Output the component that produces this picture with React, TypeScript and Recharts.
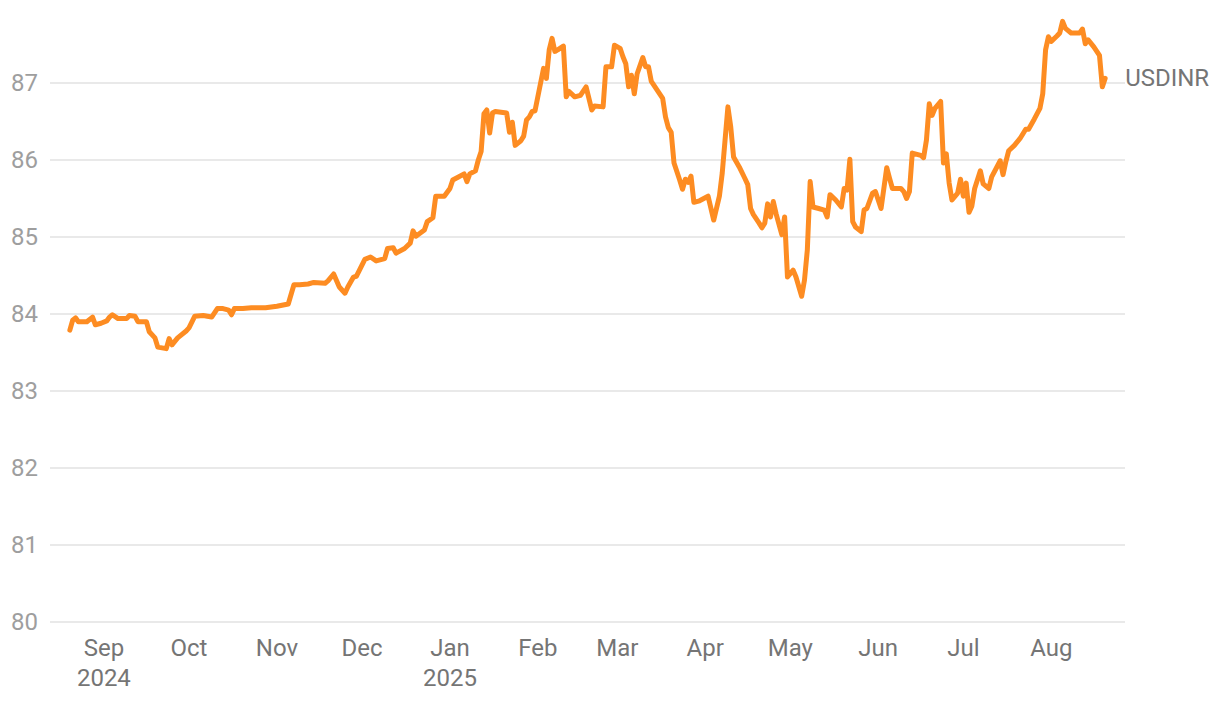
import React from 'react';
import { LineChart, Line, XAxis, YAxis, CartesianGrid, LabelList } from 'recharts';

const dates = [
  '2024-08-20', '2024-08-21', '2024-08-22', '2024-08-23', '2024-08-26', '2024-08-28', '2024-08-29', '2024-08-31',
  '2024-09-02', '2024-09-03', '2024-09-04', '2024-09-06', '2024-09-09', '2024-09-10', '2024-09-12', '2024-09-13',
  '2024-09-16', '2024-09-17', '2024-09-19', '2024-09-20', '2024-09-23', '2024-09-24', '2024-09-25', '2024-09-27',
  '2024-09-30', '2024-10-01', '2024-10-03', '2024-10-06', '2024-10-09', '2024-10-11', '2024-10-13', '2024-10-15',
  '2024-10-16', '2024-10-17', '2024-10-20', '2024-10-23', '2024-10-28', '2024-11-01', '2024-11-05', '2024-11-07',
  '2024-11-09', '2024-11-12', '2024-11-14', '2024-11-18', '2024-11-19', '2024-11-21', '2024-11-23', '2024-11-25',
  '2024-11-26', '2024-11-28', '2024-11-29', '2024-12-02', '2024-12-04', '2024-12-06', '2024-12-09', '2024-12-10',
  '2024-12-12', '2024-12-13', '2024-12-16', '2024-12-18', '2024-12-19', '2024-12-20', '2024-12-23', '2024-12-24',
  '2024-12-26', '2024-12-27', '2024-12-30', '2025-01-01', '2025-01-02', '2025-01-04', '2025-01-06', '2025-01-07',
  '2025-01-08', '2025-01-10', '2025-01-11', '2025-01-12', '2025-01-13', '2025-01-14', '2025-01-15', '2025-01-16',
  '2025-01-17', '2025-01-19', '2025-01-21', '2025-01-22', '2025-01-23', '2025-01-24', '2025-01-26', '2025-01-27',
  '2025-01-28', '2025-01-29', '2025-01-30', '2025-01-31', '2025-02-03', '2025-02-04', '2025-02-05', '2025-02-06',
  '2025-02-07', '2025-02-08', '2025-02-10', '2025-02-11', '2025-02-12', '2025-02-14', '2025-02-16', '2025-02-18',
  '2025-02-20', '2025-02-21', '2025-02-24', '2025-02-25', '2025-02-27', '2025-02-28', '2025-03-02', '2025-03-03',
  '2025-03-04', '2025-03-05', '2025-03-06', '2025-03-07', '2025-03-08', '2025-03-10', '2025-03-11', '2025-03-12',
  '2025-03-13', '2025-03-15', '2025-03-17', '2025-03-18', '2025-03-19', '2025-03-20', '2025-03-21', '2025-03-23',
  '2025-03-24', '2025-03-25', '2025-03-26', '2025-03-27', '2025-03-28', '2025-03-30', '2025-04-02', '2025-04-04',
  '2025-04-06', '2025-04-07', '2025-04-08', '2025-04-09', '2025-04-10', '2025-04-11', '2025-04-13', '2025-04-15',
  '2025-04-16', '2025-04-17', '2025-04-18', '2025-04-20', '2025-04-21', '2025-04-22', '2025-04-23', '2025-04-24',
  '2025-04-25', '2025-04-26', '2025-04-28', '2025-04-29', '2025-04-30', '2025-05-02', '2025-05-03', '2025-05-05',
  '2025-05-06', '2025-05-07', '2025-05-08', '2025-05-09', '2025-05-11', '2025-05-13', '2025-05-14', '2025-05-15',
  '2025-05-17', '2025-05-19', '2025-05-20', '2025-05-21', '2025-05-22', '2025-05-23', '2025-05-24', '2025-05-26',
  '2025-05-27', '2025-05-28', '2025-05-30', '2025-05-31', '2025-06-01', '2025-06-02', '2025-06-04', '2025-06-05',
  '2025-06-06', '2025-06-09', '2025-06-10', '2025-06-11', '2025-06-12', '2025-06-13', '2025-06-16', '2025-06-17',
  '2025-06-18', '2025-06-19', '2025-06-20', '2025-06-21', '2025-06-23', '2025-06-24', '2025-06-25', '2025-06-26',
  '2025-06-27', '2025-06-29', '2025-06-30', '2025-07-01', '2025-07-02', '2025-07-03', '2025-07-04', '2025-07-05',
  '2025-07-07', '2025-07-08', '2025-07-10', '2025-07-11', '2025-07-14', '2025-07-15', '2025-07-16', '2025-07-17',
  '2025-07-19', '2025-07-21', '2025-07-23', '2025-07-24', '2025-07-26', '2025-07-28', '2025-07-29', '2025-07-30',
  '2025-07-31', '2025-08-01', '2025-08-03', '2025-08-04', '2025-08-05', '2025-08-06', '2025-08-08', '2025-08-11',
  '2025-08-12', '2025-08-13', '2025-08-14', '2025-08-16', '2025-08-18', '2025-08-19', '2025-08-20',
];

const usdInr = [
  83.79, 83.92, 83.95, 83.9, 83.9, 83.96, 83.86, 83.88,
  83.91, 83.96, 83.99, 83.94, 83.94, 83.98, 83.97, 83.9,
  83.9, 83.77, 83.69, 83.57, 83.55, 83.68, 83.6, 83.69,
  83.78, 83.82, 83.97, 83.98, 83.96, 84.07, 84.07, 84.05,
  83.99, 84.07, 84.07, 84.08, 84.08, 84.1, 84.13, 84.38,
  84.38, 84.39, 84.41, 84.4, 84.43, 84.52, 84.35, 84.27,
  84.35, 84.48, 84.49, 84.71, 84.74, 84.69, 84.72, 84.85,
  84.86, 84.79, 84.85, 84.92, 85.08, 85.01, 85.09, 85.2,
  85.25, 85.53, 85.53, 85.63, 85.74, 85.78, 85.82, 85.72,
  85.82, 85.86, 86.0, 86.11, 86.6, 86.65, 86.35, 86.61,
  86.63, 86.62, 86.61, 86.36, 86.49, 86.19, 86.25, 86.31,
  86.52, 86.56, 86.63, 86.64, 87.19, 87.06, 87.43, 87.58,
  87.41, 87.43, 87.48, 86.82, 86.89, 86.82, 86.84, 86.95,
  86.65, 86.7, 86.69, 87.21, 87.21, 87.49, 87.45, 87.34,
  87.25, 86.95, 87.1, 86.86, 87.12, 87.33, 87.21, 87.21,
  87.02, 86.91, 86.8, 86.56, 86.42, 86.36, 85.96, 85.74,
  85.62, 85.75, 85.71, 85.79, 85.45, 85.47, 85.53, 85.22,
  85.53, 85.83, 86.26, 86.69, 86.43, 86.04, 85.91, 85.76,
  85.68, 85.37, 85.29, 85.18, 85.12, 85.18, 85.43, 85.26,
  85.46, 85.3, 85.03, 85.26, 84.48, 84.57, 84.48, 84.23,
  84.44, 84.83, 85.72, 85.39, 85.37, 85.35, 85.26, 85.55,
  85.48, 85.39, 85.63, 85.61, 86.01, 85.2, 85.13, 85.07,
  85.35, 85.37, 85.57, 85.59, 85.48, 85.37, 85.9, 85.76,
  85.63, 85.63, 85.59, 85.5, 85.59, 86.09, 86.06, 86.03,
  86.26, 86.73, 86.58, 86.67, 86.76, 85.96, 86.08, 85.7,
  85.48, 85.57, 85.75, 85.53, 85.7, 85.32, 85.4, 85.63,
  85.86, 85.69, 85.63, 85.78, 85.99, 85.81, 85.98, 86.12,
  86.19, 86.28, 86.4, 86.4, 86.53, 86.67, 86.86, 87.43,
  87.6, 87.54, 87.61, 87.65, 87.8, 87.71, 87.65, 87.65,
  87.7, 87.51, 87.56, 87.47, 87.36, 86.95, 87.06,
];

const monthTicks = [
  '2024-09-01', '2024-10-01', '2024-11-01', '2024-12-01', '2025-01-01', '2025-02-01',
  '2025-03-01', '2025-04-01', '2025-05-01', '2025-06-01', '2025-07-01', '2025-08-01',
];
const monthLabels = [
  ['Sep', '2024'], ['Oct'], ['Nov'], ['Dec'], ['Jan', '2025'], ['Feb'],
  ['Mar'], ['Apr'], ['May'], ['Jun'], ['Jul'], ['Aug'],
];
const yTicks = [80, 81, 82, 83, 84, 85, 86, 87];
const seriesName = 'USDINR';

const toTime = (d: string) => Date.parse(d + 'T00:00:00Z');

const data = dates.map((d, i) => ({ t: toTime(d), rate: usdInr[i] }));
const tickTimes = monthTicks.map(toTime);
const xDomain = [toTime('2024-08-13'), toTime('2025-08-27')];

const LINE_COLOR = '#fd8c22';
const FONT = 'Roboto, sans-serif';

const MonthTick = (props: any) => {
  const { x, y, payload } = props;
  const idx = tickTimes.indexOf(payload.value);
  const lines = monthLabels[idx] || [];
  return (
    <text x={x} y={y} textAnchor="middle" fill="#757575" fontSize={24} fontFamily={FONT}>
      {lines.map((s, i) => (
        <tspan key={i} x={x} dy={i === 0 ? 34 : 30}>{s}</tspan>
      ))}
    </text>
  );
};

const ValueTick = (props: any) => {
  const { x, y, payload } = props;
  return (
    <text x={x - 12} y={y} textAnchor="end" dominantBaseline="central" fill="#9e9e9e" fontSize={24} fontFamily={FONT}>
      {payload.value}
    </text>
  );
};

const EndLabel = (props: any) => {
  const { x, y, index } = props;
  if (index !== data.length - 1) return null;
  return (
    <text x={x + 20} y={y} dominantBaseline="central" fill="#757575" fontSize={24} fontFamily={FONT}>
      {seriesName}
    </text>
  );
};

export default function App() {
  return (
    <div style={{ position: 'absolute', left: 0, top: 0, background: '#fff' }}>
      <LineChart width={1220} height={702} data={data} margin={{ top: 6, right: 95, bottom: 0, left: 0 }}>
        <CartesianGrid vertical={false} stroke="#e2e2e2" strokeWidth={1.5} syncWithTicks />
        <XAxis
          dataKey="t"
          type="number"
          domain={xDomain}
          ticks={tickTimes}
          tick={<MonthTick />}
          tickLine={false}
          axisLine={false}
          tickSize={0}
          tickMargin={0}
          height={80}
          interval={0}
          allowDataOverflow
        />
        <YAxis
          domain={[80, 88]}
          ticks={yTicks}
          tick={<ValueTick />}
          tickLine={false}
          axisLine={false}
          tickSize={0}
          tickMargin={0}
          width={50}
          interval={0}
          allowDataOverflow
        />
        <Line
          type="linear"
          dataKey="rate"
          stroke={LINE_COLOR}
          strokeWidth={5}
          strokeLinejoin="round"
          strokeLinecap="round"
          dot={false}
          activeDot={false}
          isAnimationActive={false}
        >
          <LabelList dataKey="rate" content={<EndLabel />} />
        </Line>
      </LineChart>
    </div>
  );
}
